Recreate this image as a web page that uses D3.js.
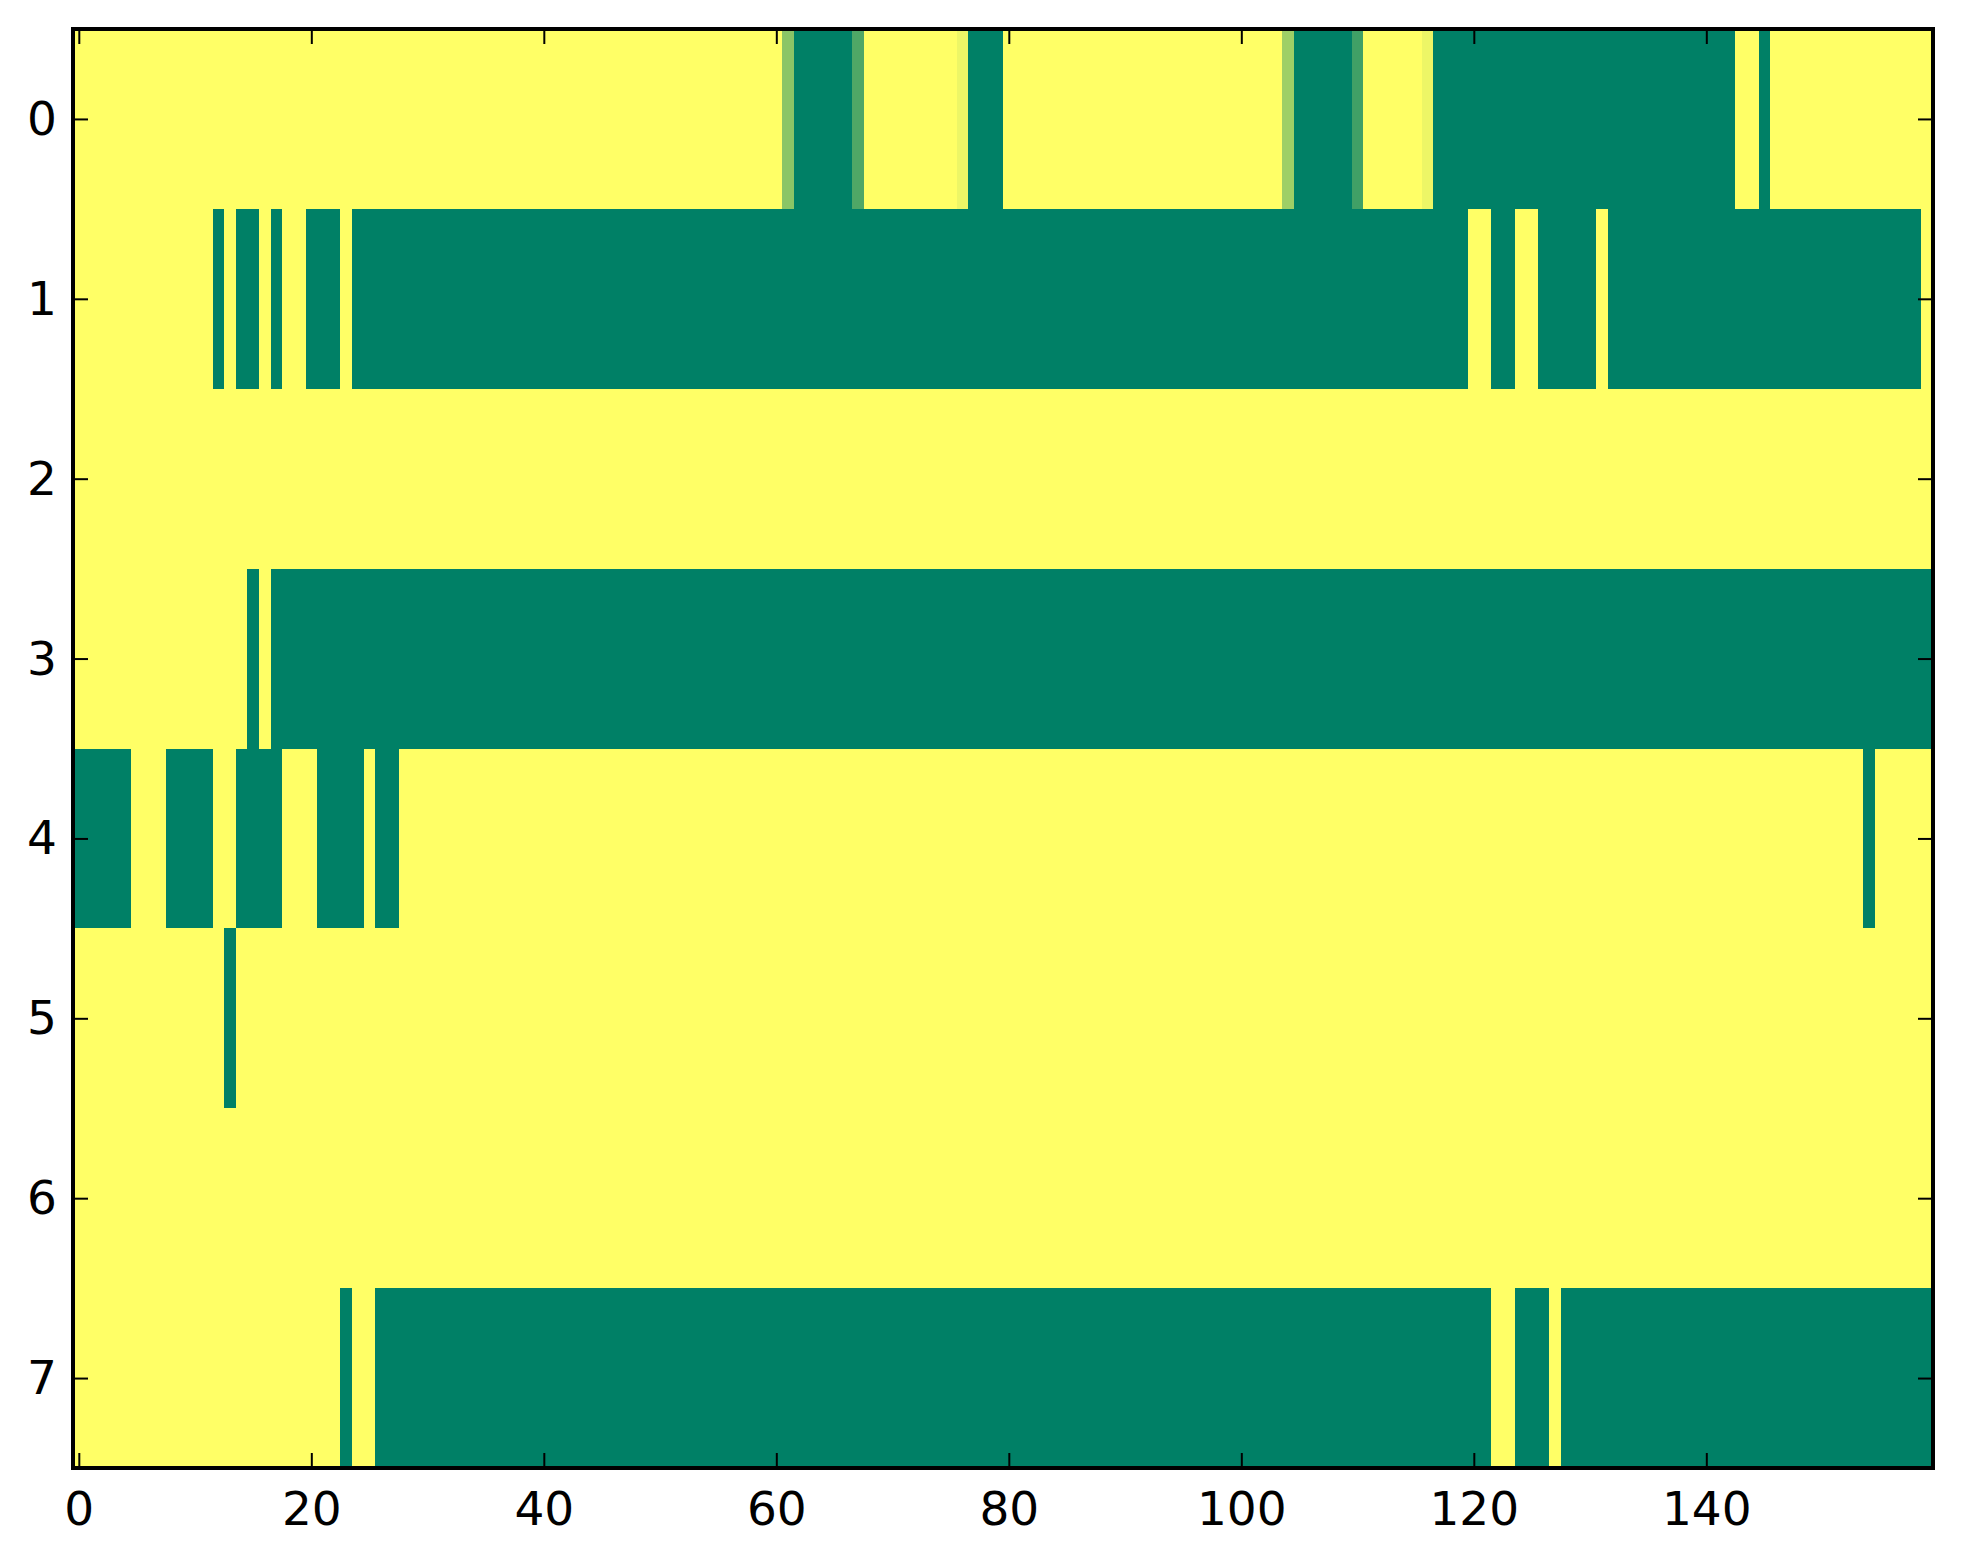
<!DOCTYPE html>
<html>
<head>
<meta charset="utf-8">
<script src="https://cdn.jsdelivr.net/npm/d3@7"></script>
<style>
  html, body { margin: 0; padding: 0; background: #fff; }
  svg { display: block; }
  text { font-family: "DejaVu Sans", sans-serif; }
</style>
</head>
<body>
<svg id="chart" width="1963" height="1564"></svg>
<script>
// ---- data (8 rows x 160 columns, values 0..1 on the "summer" colormap) ----
const row0 = [
  1,1,1,1,1,1,1,1,1,1,1,1,1,1,1,1,1,1,1,1,
  1,1,1,1,1,1,1,1,1,1,1,1,1,1,1,1,1,1,1,1,
  1,1,1,1,1,1,1,1,1,1,1,1,1,1,1,1,1,1,1,1,
  1,.54,0,0,0,0,0,.31,1,1,1,1,1,1,1,1,.93,0,0,0,
  1,1,1,1,1,1,1,1,1,1,1,1,1,1,1,1,1,1,1,1,
  1,1,1,1,.62,0,0,0,0,0,.25,1,1,1,1,1,.93,0,0,0,
  0,0,0,0,0,0,0,0,0,0,0,0,0,0,0,0,0,0,0,0,
  0,0,0,1,1,0,1,1,1,1,1,1,1,1,1,1,1,1,1,1
];
const row1 = [
  1,1,1,1,1,1,1,1,1,1,1,1,0,1,0,0,1,0,1,1,
  0,0,0,1,0,0,0,0,0,0,0,0,0,0,0,0,0,0,0,0,
  0,0,0,0,0,0,0,0,0,0,0,0,0,0,0,0,0,0,0,0,
  0,0,0,0,0,0,0,0,0,0,0,0,0,0,0,0,0,0,0,0,
  0,0,0,0,0,0,0,0,0,0,0,0,0,0,0,0,0,0,0,0,
  0,0,0,0,0,0,0,0,0,0,0,0,0,0,0,0,0,0,0,0,
  1,1,0,0,1,1,0,0,0,0,0,1,0,0,0,0,0,0,0,0,
  0,0,0,0,0,0,0,0,0,0,0,0,0,0,0,0,0,0,0,1
];
const row2 = [
  1,1,1,1,1,1,1,1,1,1,1,1,1,1,1,1,1,1,1,1,
  1,1,1,1,1,1,1,1,1,1,1,1,1,1,1,1,1,1,1,1,
  1,1,1,1,1,1,1,1,1,1,1,1,1,1,1,1,1,1,1,1,
  1,1,1,1,1,1,1,1,1,1,1,1,1,1,1,1,1,1,1,1,
  1,1,1,1,1,1,1,1,1,1,1,1,1,1,1,1,1,1,1,1,
  1,1,1,1,1,1,1,1,1,1,1,1,1,1,1,1,1,1,1,1,
  1,1,1,1,1,1,1,1,1,1,1,1,1,1,1,1,1,1,1,1,
  1,1,1,1,1,1,1,1,1,1,1,1,1,1,1,1,1,1,1,1
];
const row3 = [
  1,1,1,1,1,1,1,1,1,1,1,1,1,1,1,0,1,0,0,0,
  0,0,0,0,0,0,0,0,0,0,0,0,0,0,0,0,0,0,0,0,
  0,0,0,0,0,0,0,0,0,0,0,0,0,0,0,0,0,0,0,0,
  0,0,0,0,0,0,0,0,0,0,0,0,0,0,0,0,0,0,0,0,
  0,0,0,0,0,0,0,0,0,0,0,0,0,0,0,0,0,0,0,0,
  0,0,0,0,0,0,0,0,0,0,0,0,0,0,0,0,0,0,0,0,
  0,0,0,0,0,0,0,0,0,0,0,0,0,0,0,0,0,0,0,0,
  0,0,0,0,0,0,0,0,0,0,0,0,0,0,0,0,0,0,0,0
];
const row4 = [
  0,0,0,0,0,1,1,1,0,0,0,0,1,1,0,0,0,0,1,1,
  1,0,0,0,0,1,0,0,1,1,1,1,1,1,1,1,1,1,1,1,
  1,1,1,1,1,1,1,1,1,1,1,1,1,1,1,1,1,1,1,1,
  1,1,1,1,1,1,1,1,1,1,1,1,1,1,1,1,1,1,1,1,
  1,1,1,1,1,1,1,1,1,1,1,1,1,1,1,1,1,1,1,1,
  1,1,1,1,1,1,1,1,1,1,1,1,1,1,1,1,1,1,1,1,
  1,1,1,1,1,1,1,1,1,1,1,1,1,1,1,1,1,1,1,1,
  1,1,1,1,1,1,1,1,1,1,1,1,1,1,0,1,1,1,1,1
];
const row5 = [
  1,1,1,1,1,1,1,1,1,1,1,1,1,0,1,1,1,1,1,1,
  1,1,1,1,1,1,1,1,1,1,1,1,1,1,1,1,1,1,1,1,
  1,1,1,1,1,1,1,1,1,1,1,1,1,1,1,1,1,1,1,1,
  1,1,1,1,1,1,1,1,1,1,1,1,1,1,1,1,1,1,1,1,
  1,1,1,1,1,1,1,1,1,1,1,1,1,1,1,1,1,1,1,1,
  1,1,1,1,1,1,1,1,1,1,1,1,1,1,1,1,1,1,1,1,
  1,1,1,1,1,1,1,1,1,1,1,1,1,1,1,1,1,1,1,1,
  1,1,1,1,1,1,1,1,1,1,1,1,1,1,1,1,1,1,1,1
];
const row6 = [
  1,1,1,1,1,1,1,1,1,1,1,1,1,1,1,1,1,1,1,1,
  1,1,1,1,1,1,1,1,1,1,1,1,1,1,1,1,1,1,1,1,
  1,1,1,1,1,1,1,1,1,1,1,1,1,1,1,1,1,1,1,1,
  1,1,1,1,1,1,1,1,1,1,1,1,1,1,1,1,1,1,1,1,
  1,1,1,1,1,1,1,1,1,1,1,1,1,1,1,1,1,1,1,1,
  1,1,1,1,1,1,1,1,1,1,1,1,1,1,1,1,1,1,1,1,
  1,1,1,1,1,1,1,1,1,1,1,1,1,1,1,1,1,1,1,1,
  1,1,1,1,1,1,1,1,1,1,1,1,1,1,1,1,1,1,1,1
];
const row7 = [
  1,1,1,1,1,1,1,1,1,1,1,1,1,1,1,1,1,1,1,1,
  1,1,1,0,1,1,0,0,0,0,0,0,0,0,0,0,0,0,0,0,
  0,0,0,0,0,0,0,0,0,0,0,0,0,0,0,0,0,0,0,0,
  0,0,0,0,0,0,0,0,0,0,0,0,0,0,0,0,0,0,0,0,
  0,0,0,0,0,0,0,0,0,0,0,0,0,0,0,0,0,0,0,0,
  0,0,0,0,0,0,0,0,0,0,0,0,0,0,0,0,0,0,0,0,
  0,0,1,1,0,0,0,1,0,0,0,0,0,0,0,0,0,0,0,0,
  0,0,0,0,0,0,0,0,0,0,0,0,0,0,0,0,0,0,0,0
];
const rows = [row0, row1, row2, row3, row4, row5, row6, row7];
const xTicks = [0, 20, 40, 60, 80, 100, 120, 140];
const yTicks = [0, 1, 2, 3, 4, 5, 6, 7];
const nCols = 160;

// ---- layout ----
const plotLeft = 73, plotRight = 1933, plotTop = 29, plotBottom = 1468;
const tickLen = 15;
const svg = d3.select("#chart");

const x = d3.scaleLinear().domain([-0.5, nCols - 0.5]).range([plotLeft, plotRight]);
const y = d3.scaleLinear().domain([-0.5, rows.length - 0.5]).range([plotTop, plotBottom]);
const color = d3.scaleLinear().domain([0, 1]).range(["#008066", "#ffff66"]);

// cells
const cells = [];
rows.forEach((r, ri) => r.forEach((v, ci) => cells.push({ r: ri, c: ci, v })));
svg.append("g")
  .attr("shape-rendering", "crispEdges")
  .selectAll("rect").data(cells).join("rect")
  .attr("x", d => x(d.c - 0.5))
  .attr("y", d => y(d.r - 0.5))
  .attr("width", d => x(d.c + 0.5) - x(d.c - 0.5) + 0.6)
  .attr("height", d => y(d.r + 0.5) - y(d.r - 0.5) + 0.6)
  .attr("fill", d => color(d.v));

// axes with inward ticks on all sides
const axisFont = "47px";
const gB = svg.append("g").attr("transform", `translate(0,${plotBottom})`)
  .call(d3.axisBottom(x).tickValues(xTicks).tickSizeInner(-tickLen).tickSizeOuter(0));
const gT = svg.append("g").attr("transform", `translate(0,${plotTop})`)
  .call(d3.axisTop(x).tickValues(xTicks).tickSizeInner(-tickLen).tickSizeOuter(0).tickFormat(""));
const gL = svg.append("g").attr("transform", `translate(${plotLeft},0)`)
  .call(d3.axisLeft(y).tickValues(yTicks).tickSizeInner(-tickLen).tickSizeOuter(0));
const gR = svg.append("g").attr("transform", `translate(${plotRight},0)`)
  .call(d3.axisRight(y).tickValues(yTicks).tickSizeInner(-tickLen).tickSizeOuter(0).tickFormat(""));

[gB, gT, gL, gR].forEach(g => {
  g.select(".domain").remove();
  g.selectAll(".tick line").attr("stroke", "#000").attr("stroke-width", 2);
  g.selectAll(".tick text").attr("fill", "#000").style("font-size", axisFont)
    .style("font-family", "'DejaVu Sans', sans-serif");
});
gB.selectAll(".tick text").attr("dy", null).attr("y", 57);
gL.selectAll(".tick text").attr("x", -16).attr("dy", "0.33em");

// frame
svg.append("rect")
  .attr("x", plotLeft).attr("y", plotTop)
  .attr("width", plotRight - plotLeft).attr("height", plotBottom - plotTop)
  .attr("fill", "none").attr("stroke", "#000").attr("stroke-width", 4);
</script>
</body>
</html>
